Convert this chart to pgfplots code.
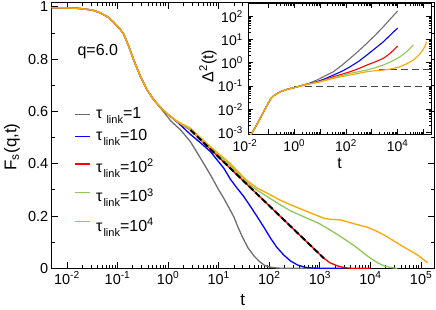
\documentclass[border=0pt]{standalone}
\usepackage{fontspec}
\setmainfont{Liberation Sans}
\usepackage{pgfplots}
\pgfplotsset{compat=1.18}
\definecolor{cgray}{RGB}{110,110,110}
\definecolor{cgreen}{RGB}{140,200,90}
\definecolor{corange}{RGB}{255,165,0}
\definecolor{cdash}{RGB}{70,70,70}
\newcommand{\fsz}[1]{\fontsize{#1}{#1}\selectfont}
\newcommand{\lsub}[1]{\raisebox{-5pt}{\fsz{11}#1}}
\newcommand{\lsup}[1]{\raisebox{5.6pt}{\fsz{11}#1}}
\begin{document}
\begin{tikzpicture}
\useasboundingbox (-51.7pt,-40.7pt) rectangle (384.3pt,268.3pt);
\begin{axis}[
  at={(0pt,0pt)}, anchor=south west,
  scale only axis, width=382.3pt, height=265.6pt,
  xmode=log, xmin=0.005, xmax=1.8e5, ymin=0, ymax=1.016,
  xtick={1e-2,1e-1,1,10,100,1000,10000,100000},
  xticklabels={10\textsuperscript{-2},10\textsuperscript{-1},10\textsuperscript{0},10\textsuperscript{1},10\textsuperscript{2},10\textsuperscript{3},10\textsuperscript{4},10\textsuperscript{5}},
  ytick={0,0.2,0.4,0.6,0.8,1}, yticklabels={0,0.2,0.4,0.6,0.8,1},
  minor ytick={0.1,0.3,0.5,0.7,0.9},
  tick align=inside, major tick length=6pt, minor tick length=3pt,
  tick style={black, line width=0.8pt},
  axis line style={line width=1pt},
  ticklabel style={font=\fsz{14.5}},
  xlabel={t}, ylabel={F\textsubscript{s}(q,t)},
  label style={font=\fsz{17}},
  xlabel style={at={(axis description cs:0.5,-0.119)}, anchor=center},
  ylabel style={at={(axis description cs:-0.104,0.457)}, anchor=center},
  every axis plot/.append style={line width=1.3pt},
]
\addplot[cgray] coordinates {(0.005,0.997)(0.01,0.996)(0.0178,0.994)(0.0316,0.988)(0.0457,0.977)(0.0631,0.962)(0.0832,0.942)(0.112,0.915)(0.132,0.896)(0.166,0.85)(0.209,0.797)(0.282,0.735)(0.38,0.684)(0.519,0.645)(0.708,0.613)(1.0,0.577)(1.11,0.565)(1.75,0.530)(2.77,0.484)(4.37,0.421)(6.89,0.357)(10,0.30)(12.6,0.268)(15.8,0.233)(19.9,0.197)(24,0.158)(29.2,0.121)(38,0.078)(49.5,0.048)(63,0.027)(79.4,0.012)(100,0.005)(126,0.002)(178,0.0)(1000,0)};
\addplot[blue] coordinates {(0.005,0.997)(0.01,0.996)(0.0178,0.994)(0.0316,0.988)(0.0457,0.977)(0.0631,0.962)(0.0832,0.942)(0.112,0.915)(0.132,0.896)(0.166,0.85)(0.209,0.797)(0.282,0.735)(0.38,0.684)(0.519,0.645)(0.708,0.615)(1.0,0.588)(1.585,0.556)(2.77,0.512)(4.37,0.480)(6.89,0.446)(10,0.407)(12.6,0.383)(17.1,0.340)(22.4,0.31)(31.4,0.274)(42.7,0.236)(57.8,0.197)(79.4,0.155)(106,0.115)(141,0.080)(195,0.050)(263,0.028)(358,0.013)(501,0.004)(708,0.001)(1000,0)(3000,0)};
\addplot[red] coordinates {(0.005,0.997)(0.01,0.996)(0.0178,0.994)(0.0316,0.988)(0.0457,0.977)(0.0631,0.962)(0.0832,0.942)(0.112,0.915)(0.132,0.896)(0.166,0.85)(0.209,0.797)(0.282,0.735)(0.38,0.684)(0.519,0.645)(0.708,0.615)(1.0,0.588)(1.585,0.558)(2.77,0.529)(10,0.425)(100,0.239)(631,0.090)(1205,0.038)(1585,0.021)(2239,0.009)(3162,0.002)(4467,0)(10000,0)};
\addplot[cgreen] coordinates {(0.005,0.997)(0.01,0.996)(0.0178,0.994)(0.0316,0.988)(0.0457,0.977)(0.0631,0.962)(0.0832,0.942)(0.112,0.915)(0.132,0.896)(0.166,0.85)(0.209,0.797)(0.282,0.735)(0.38,0.684)(0.519,0.645)(0.708,0.615)(1.0,0.588)(1.585,0.558)(2.75,0.531)(6.89,0.46)(17.1,0.392)(33.9,0.332)(56.2,0.300)(91.2,0.274)(158,0.245)(261,0.220)(565,0.191)(955,0.172)(1205,0.160)(1778,0.141)(2582,0.121)(3981,0.097)(5534,0.077)(7943,0.053)(10140,0.038)(14125,0.020)(18620,0.009)(25119,0.003)(33884,0)};
\addplot[corange] coordinates {(0.005,0.997)(0.01,0.996)(0.0178,0.994)(0.0316,0.988)(0.0457,0.977)(0.0631,0.962)(0.0832,0.942)(0.112,0.915)(0.132,0.896)(0.166,0.85)(0.209,0.797)(0.282,0.735)(0.38,0.684)(0.519,0.645)(0.708,0.615)(1.0,0.588)(1.585,0.560)(2.75,0.536)(6.89,0.465)(17.1,0.400)(33.9,0.340)(56.2,0.308)(91.2,0.287)(158,0.262)(261,0.243)(565,0.217)(955,0.199)(1259,0.190)(1778,0.187)(2570,0.185)(4074,0.174)(6310,0.164)(8710,0.157)(12589,0.144)(18620,0.127)(28184,0.106)(39811,0.088)(58884,0.069)(85114,0.051)(134896,0.021)};
\addplot[black, line width=2pt, dash pattern=on 6pt off 3pt] coordinates {(2.77,0.529)(1205,0.038)};
\node[anchor=base west, font=\fsz{16}] at (axis description cs:0.0583,0.803) {q=6.0};
\end{axis}
% legend (sample lines and entries)
\draw[cgray, line width=1.3pt] (23.3pt,154pt) -- (38.3pt,154pt);
\draw[blue, line width=1.3pt] (23.3pt,131.6pt) -- (38.3pt,131.6pt);
\draw[red, line width=1.3pt] (23.3pt,104.3pt) -- (38.3pt,104.3pt);
\draw[cgreen, line width=1.3pt] (23.3pt,75.6pt) -- (38.3pt,75.6pt);
\draw[corange, line width=1.3pt] (23.3pt,46.6pt) -- (38.3pt,46.6pt);
\begin{scope}[every node/.style={anchor=base west, inner sep=0pt, font=\fsz{16}}]
\node at (44.3pt,150pt) {τ\hspace{4pt}\lsub{link}=1};
\node at (44.3pt,127.6pt) {τ\hspace{1pt}\lsub{link}=10};
\node at (44.3pt,96pt) {τ\hspace{1pt}\lsub{link}=10\lsup{2}};
\node at (44.3pt,66.6pt) {τ\hspace{1pt}\lsub{link}=10\lsup{3}};
\node at (44.3pt,37.3pt) {τ\hspace{1pt}\lsub{link}=10\lsup{4}};
\end{scope}
\begin{axis}[
  at={(196.6pt,134pt)}, anchor=south west,
  scale only axis, width=182.7pt, height=131.3pt,
  xmode=log, ymode=log, xmin=0.0167, xmax=1.95e5, ymin=8.4e-4, ymax=375,
  axis background/.style={fill=white},
  xtick={0.1,1,10,100,1000,10000,100000},
  xticklabels={,10\textsuperscript{0},,10\textsuperscript{2},,10\textsuperscript{4},},
  ytick={1e-3,1e-2,1e-1,1,10,100},
  yticklabels={10\textsuperscript{-3},10\textsuperscript{-2},10\textsuperscript{-1},10\textsuperscript{0},10\textsuperscript{1},10\textsuperscript{2}},
  tick align=inside, major tick length=5pt, minor tick length=2.5pt,
  tick style={black, line width=0.8pt},
  axis line style={line width=1pt},
  ticklabel style={font=\fsz{14}},
  xticklabel style={yshift=-2pt},
  yticklabel style={xshift=-2pt},
  xlabel={t}, ylabel={Δ\textsuperscript{2}(t)},
  label style={font=\fsz{16}},
  xlabel style={at={(axis description cs:0.5,-0.224)}, anchor=center},
  ylabel style={at={(axis description cs:-0.22,0.52)}, anchor=center},
  every axis plot/.append style={line width=1.1pt},
]
\addplot[cdash, line width=1pt, dash pattern=on 7pt off 4pt] coordinates {(1,0.1)(2e5,0.1)};
\addplot[cdash, line width=1pt, dash pattern=on 7pt off 4pt] coordinates {(1900,0.5)(2e5,0.5)};
\addplot[cgray] coordinates {(0.0178,5.6e-4)(0.0251,1.12e-3)(0.0398,2.75e-3)(0.0631,7.24e-3)(0.1,0.019)(0.126,0.0295)(0.158,0.038)(0.288,0.057)(0.525,0.0723)(1.096,0.088)(2.29,0.111)(3.98,0.135)(7.52,0.1816)(15.85,0.275)(32.9,0.414)(70.8,0.794)(145,1.56)(316,3.31)(641,6.9)(1349,15.5)(2805,35.7)(5012,74)(10000,170)};
\addplot[blue] coordinates {(0.0178,5.6e-4)(0.0251,1.12e-3)(0.0398,2.75e-3)(0.0631,7.24e-3)(0.1,0.019)(0.126,0.0295)(0.158,0.038)(0.288,0.057)(0.525,0.0723)(1.096,0.088)(2.29,0.111)(3.98,0.129)(7.52,0.153)(15.85,0.209)(32.9,0.2985)(70.8,0.436)(145,0.679)(316,1.175)(641,2.16)(1349,4.17)(2805,8.07)(5012,15.1)(10000,31.6)};
\addplot[red] coordinates {(0.0178,5.6e-4)(0.0251,1.12e-3)(0.0398,2.75e-3)(0.0631,7.24e-3)(0.1,0.019)(0.126,0.0295)(0.158,0.038)(0.288,0.057)(0.525,0.0723)(1.096,0.088)(2.29,0.111)(3.98,0.126)(7.52,0.148)(15.85,0.19)(32.9,0.252)(70.8,0.324)(145,0.414)(316,0.569)(641,0.80)(1349,1.10)(2805,1.56)(5012,2.51)(10000,5.25)};
\addplot[cgreen] coordinates {(0.0178,5.6e-4)(0.0251,1.12e-3)(0.0398,2.75e-3)(0.0631,7.24e-3)(0.1,0.019)(0.126,0.0295)(0.158,0.038)(0.288,0.057)(0.525,0.0723)(1.096,0.088)(2.29,0.111)(3.98,0.126)(7.52,0.145)(15.85,0.182)(32.9,0.229)(70.8,0.288)(145,0.353)(316,0.417)(641,0.490)(1349,0.617)(2805,0.804)(6310,1.20)(12388,1.83)(22387,3.02)(40365,5.82)};
\addplot[corange] coordinates {(0.0178,5.6e-4)(0.0251,1.12e-3)(0.0398,2.75e-3)(0.0631,7.24e-3)(0.1,0.019)(0.126,0.0295)(0.158,0.038)(0.288,0.057)(0.525,0.0723)(1.096,0.088)(2.29,0.111)(3.98,0.126)(7.52,0.141)(15.85,0.174)(32.9,0.215)(70.8,0.257)(145,0.299)(316,0.355)(641,0.414)(1349,0.457)(2805,0.490)(6310,0.562)(12388,0.679)(22387,0.912)(40365,1.318)(63096,2.04)(85114,3.0)(112200,5.01)(133000,8.07)};
\end{axis}
\node[anchor=north, font=\fsz{14}, inner sep=0.333em, yshift=-2pt] at (193.3pt,134pt) {10\textsuperscript{-2}};
\end{tikzpicture}
\end{document}
